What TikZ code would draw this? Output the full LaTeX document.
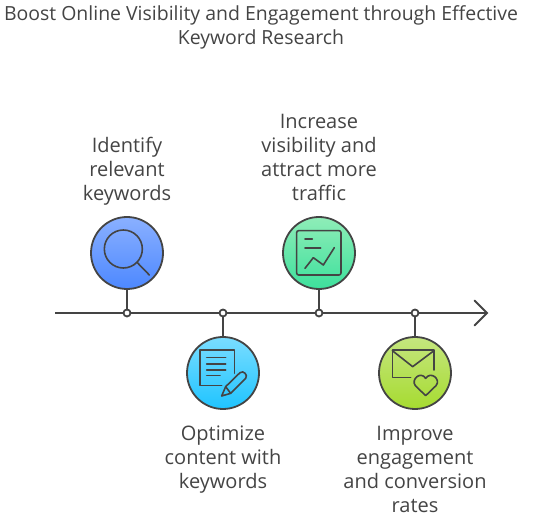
\documentclass[tikz,border=0pt]{standalone}
\usepackage{fontspec}
\setmainfont{Open Sans}
\definecolor{ink}{HTML}{444444}
\definecolor{blueT}{HTML}{8AB0FF}
\definecolor{blueB}{HTML}{4D88FF}
\definecolor{cyanT}{HTML}{7ADDFF}
\definecolor{cyanB}{HTML}{1FC4FF}
\definecolor{greenT}{HTML}{8FEDB8}
\definecolor{greenB}{HTML}{3DE09C}
\definecolor{limeT}{HTML}{C5E67F}
\definecolor{limeB}{HTML}{A6DB30}
\tikzset{
  disc/.style={circle,draw=ink,line width=1.8pt,minimum size=72pt,inner sep=0pt},
  tick/.style={circle,draw=ink,fill=white,line width=1.8pt,minimum size=7pt,inner sep=0pt},
  link/.style={draw=ink,line width=2pt},
  icon/.style={draw=ink,line width=1.6pt,line cap=round,line join=round},
  lbl/.style={align=center,text=ink,inner sep=0pt,font=\fontsize{20}{24}\selectfont},
  ttl/.style={align=center,text=ink,inner sep=0pt,font=\fontsize{19.45}{24}\selectfont},
  zoomA/.style={x=0.33333pt,y=-0.33333pt,shift={(80pt,-210pt)}},
  zoomB/.style={x=0.33333pt,y=-0.33333pt,shift={(270pt,-210pt)}}
}
\begin{document}
\begin{tikzpicture}[x=1pt,y=-1pt]
\useasboundingbox (0,0) rectangle (542,518);
\node[ttl] (title) at (261,27) {Boost Online Visibility and Engagement through Effective\\Keyword Research};
\coordinate (start) at (55,313);
\coordinate (tip) at (487,313);
\coordinate (headA) at (474.5,300.5);
\coordinate (headB) at (474.5,325.5);
\draw[link] (start) -- (tip);
\draw[link,line cap=round] (headA) -- (tip) -- (headB);
\node[disc,top color=blueT,bottom color=blueB] (c1) at (127,253) {};
\node[disc,top color=cyanT,bottom color=cyanB] (c2) at (223,373) {};
\node[disc,top color=greenT,bottom color=greenB] (c3) at (319,253) {};
\node[disc,top color=limeT,bottom color=limeB] (c4) at (415,373) {};
\node[tick] (t1) at (127,313) {};
\node[tick] (t2) at (223,313) {};
\node[tick] (t3) at (319,313) {};
\node[tick] (t4) at (415,313) {};
\draw[link] (c1) -- (t1);
\draw[link] (c2) -- (t2);
\draw[link] (c3) -- (t3);
\draw[link] (c4) -- (t4);
\node[lbl] (l1) at (127,171) {Identify\\relevant\\keywords};
\node[lbl] (l2) at (223,460) {Optimize\\content with\\keywords};
\node[lbl] (l3) at (319,157) {Increase\\visibility and\\attract more\\traffic};
\node[lbl] (l4) at (415,469) {Improve\\engagement\\and conversion\\rates};
\begin{scope}[zoomA]
  \draw[icon] (130,117) circle[radius=57];
  \draw[icon] (172,158) -- (208,195);
  \draw[icon] (463,490) -- (463,420) -- (360,420) -- (360,527) -- (425,527);
  \draw[icon] (380,443) -- (437,443) (380,462) -- (437,462) (380,480) -- (437,480) (380,497) -- (420,497);
  \draw[icon] (425,558) -- (437,530) -- (480,488) .. controls (490,480) and (505,495) .. (497,505) -- (452,550) -- cycle;
  \draw[icon] (437,530) -- (452,550);
\end{scope}
\begin{scope}[zoomB]
  \draw[icon,rounded corners=2pt] (80,62) rectangle (213,195);
  \draw[icon] (105,87) -- (127,87);
  \draw[icon] (105,114) -- (152,114);
  \draw[icon] (105,175) -- (130,143) -- (160,165) -- (193,113);
  \draw[icon] (492,480) -- (492,420) -- (367,420) -- (367,503) -- (422,503);
  \draw[icon] (367,422) -- (428,470) -- (492,422);
  \draw[icon] (467,557) -- (436,527) .. controls (422,508) and (452,482) .. (467,505) .. controls (482,482) and (514,508) .. (498,527) -- cycle;
\end{scope}
\end{tikzpicture}
\end{document}
